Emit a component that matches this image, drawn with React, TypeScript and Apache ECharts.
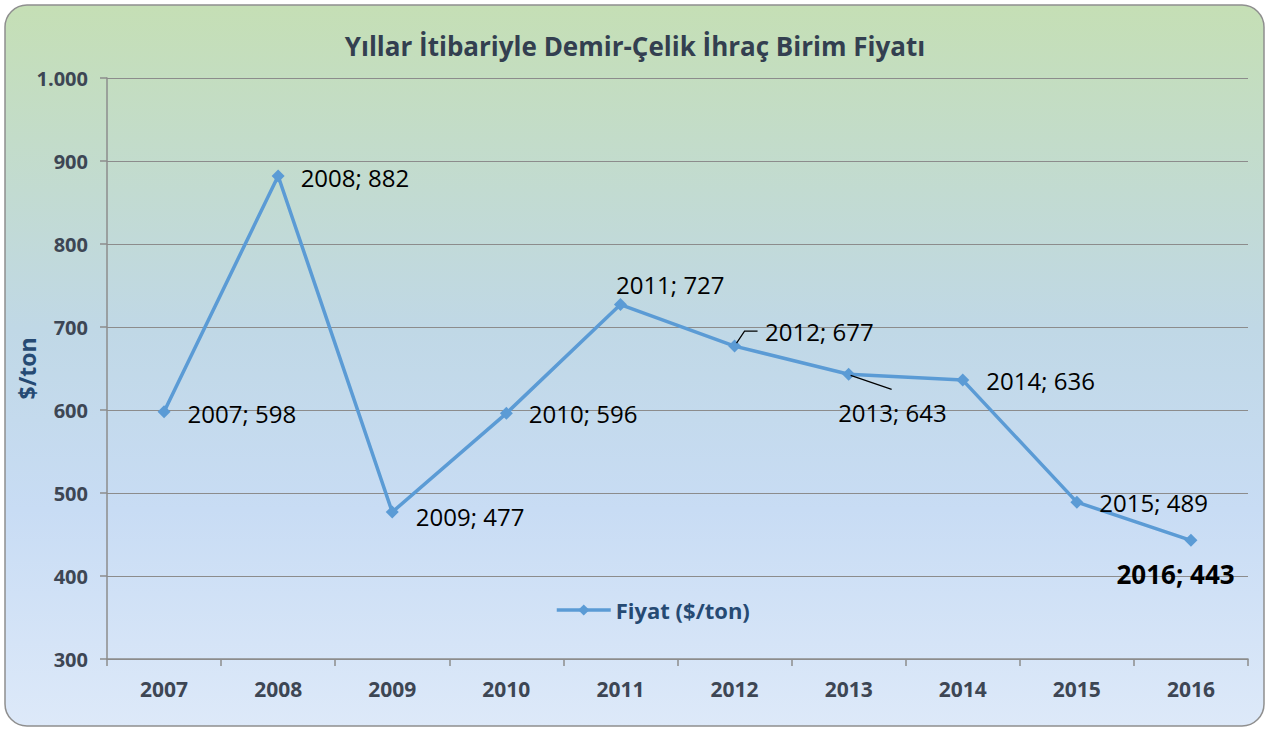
import React, { useEffect, useRef } from "react";
import * as echarts from "echarts";

const years = ["2007", "2008", "2009", "2010", "2011", "2012", "2013", "2014", "2015", "2016"];
const prices = [598, 882, 477, 596, 727, 677, 643, 636, 489, 443];
const labelOffsets: [number, number][] = [
  [12, 2], [11, 2], [12, 4], [11, 0], [-16, -20], [19, -15], [-22, 38], [12, 0], [11, 0], [-86, 34],
];
const titleText = "Yıllar İtibariyle Demir-Çelik İhraç Birim Fiyatı";
const seriesName = "Fiyat ($/ton)";
const yAxisName = "$/ton";

const FONT = "'Open Sans', sans-serif";

export default function App() {
  const ref = useRef<HTMLDivElement>(null);
  useEffect(() => {
    if (!ref.current) return;
    const chart = echarts.init(ref.current, null, { renderer: "svg" });
    const bg = new echarts.graphic.LinearGradient(0, 0, 0, 1, [
      { offset: 0, color: "#c5dfb5" },
      { offset: 0.45, color: "#c0d8e6" },
      { offset: 0.7, color: "#c8dcf4" },
      { offset: 1, color: "#dde9f9" },
    ]);
    const option: any = {
      animation: false,
      backgroundColor: "#ffffff",
      title: {
        text: titleText,
        left: "center",
        top: 28,
        textStyle: { fontFamily: FONT, fontSize: 26, fontWeight: "bold", color: "#333f50" },
      },
      legend: {
        data: [seriesName],
        left: 550,
        top: 594,
        itemWidth: 54,
        itemHeight: 14,
        itemGap: 6,
        lineStyle: { width: 3.5, color: "#5b9bd5" },
        textStyle: { fontFamily: FONT, fontSize: 22, fontWeight: "bold", color: "#264a73" },
      },
      grid: { left: 107, right: 22, top: 78, bottom: 72, outerBoundsMode: "none", containLabel: false },
      xAxis: {
        type: "category",
        data: years,
        boundaryGap: true,
        axisLine: { lineStyle: { color: "#8c8c8c", width: 1.5 } },
        axisTick: { show: true, length: 7, lineStyle: { color: "#8c8c8c", width: 1.5 } },
        axisLabel: { fontFamily: FONT, fontSize: 21, fontWeight: "bold", color: "#3d4654", margin: 19 },
      },
      yAxis: {
        type: "value",
        min: 300,
        max: 1000,
        interval: 100,
        name: yAxisName,
        nameLocation: "middle",
        nameGap: 69,
        nameMoveOverlap: false,
        nameRotate: 90,
        nameTextStyle: { fontFamily: FONT, fontSize: 23, fontWeight: "bold", color: "#264a73" },
        axisLine: { show: true, lineStyle: { color: "#8c8c8c", width: 1.5 } },
        axisTick: { show: true, length: 7, lineStyle: { color: "#8c8c8c", width: 1.5 } },
        splitLine: { lineStyle: { color: "#8c8c8c", width: 1.2 } },
        axisLabel: {
          fontFamily: FONT,
          fontSize: 20,
          fontWeight: "bold",
          color: "#3d4654",
          margin: 19,
          formatter: (v: number) => (v >= 1000 ? `${Math.floor(v / 1000)}.${String(v % 1000).padStart(3, "0")}` : String(v)),
        },
      },
      series: [
        {
          name: seriesName,
          type: "line",
          symbol: "diamond",
          symbolSize: 13,
          lineStyle: { color: "#5b9bd5", width: 3.5 },
          itemStyle: { color: "#5b9bd5" },
          z: 5,
          data: prices.map((v, i) => ({
            value: v,
            label: {
              show: true,
              position: "right",
              offset: labelOffsets[i],
              formatter: `${years[i]}; ${v}`,
              fontFamily: FONT,
              fontSize: i === prices.length - 1 ? 26 : 24,
              color: "#000000",
              fontWeight: i === prices.length - 1 ? "bold" : "normal",
            },
          })),
        },
      ],
      graphic: [
        {
          type: "rect",
          z: -100,
          silent: true,
          shape: { x: 5, y: 5, width: 1259, height: 721, r: 22 },
          style: { fill: bg, stroke: "#8f8f8f", lineWidth: 1.5 },
        },
      ],
    };
    chart.setOption(option);
    const p12 = chart.convertToPixel({ seriesIndex: 0 }, [years[5], prices[5]]) as number[];
    const p13 = chart.convertToPixel({ seriesIndex: 0 }, [years[6], prices[6]]) as number[];
    chart.setOption({
      graphic: [
        option.graphic[0],
        {
          type: "polyline",
          silent: true,
          z: 10,
          shape: { points: [[p12[0] + 2, p12[1] - 3], [p12[0] + 10, p12[1] - 15], [p12[0] + 23, p12[1] - 15]] },
          style: { stroke: "#000", lineWidth: 1.2, fill: null },
        },
        {
          type: "line",
          silent: true,
          z: 10,
          shape: { x1: p13[0] + 2, y1: p13[1] + 1, x2: p13[0] + 43, y2: p13[1] + 15 },
          style: { stroke: "#000", lineWidth: 1.2 },
        },
      ],
    });
    return () => chart.dispose();
  }, []);
  return (
    <div style={{ position: "absolute", left: 0, top: 0, width: 1270, height: 731 }}>
      <div ref={ref} style={{ width: 1270, height: 731 }} />
    </div>
  );
}
